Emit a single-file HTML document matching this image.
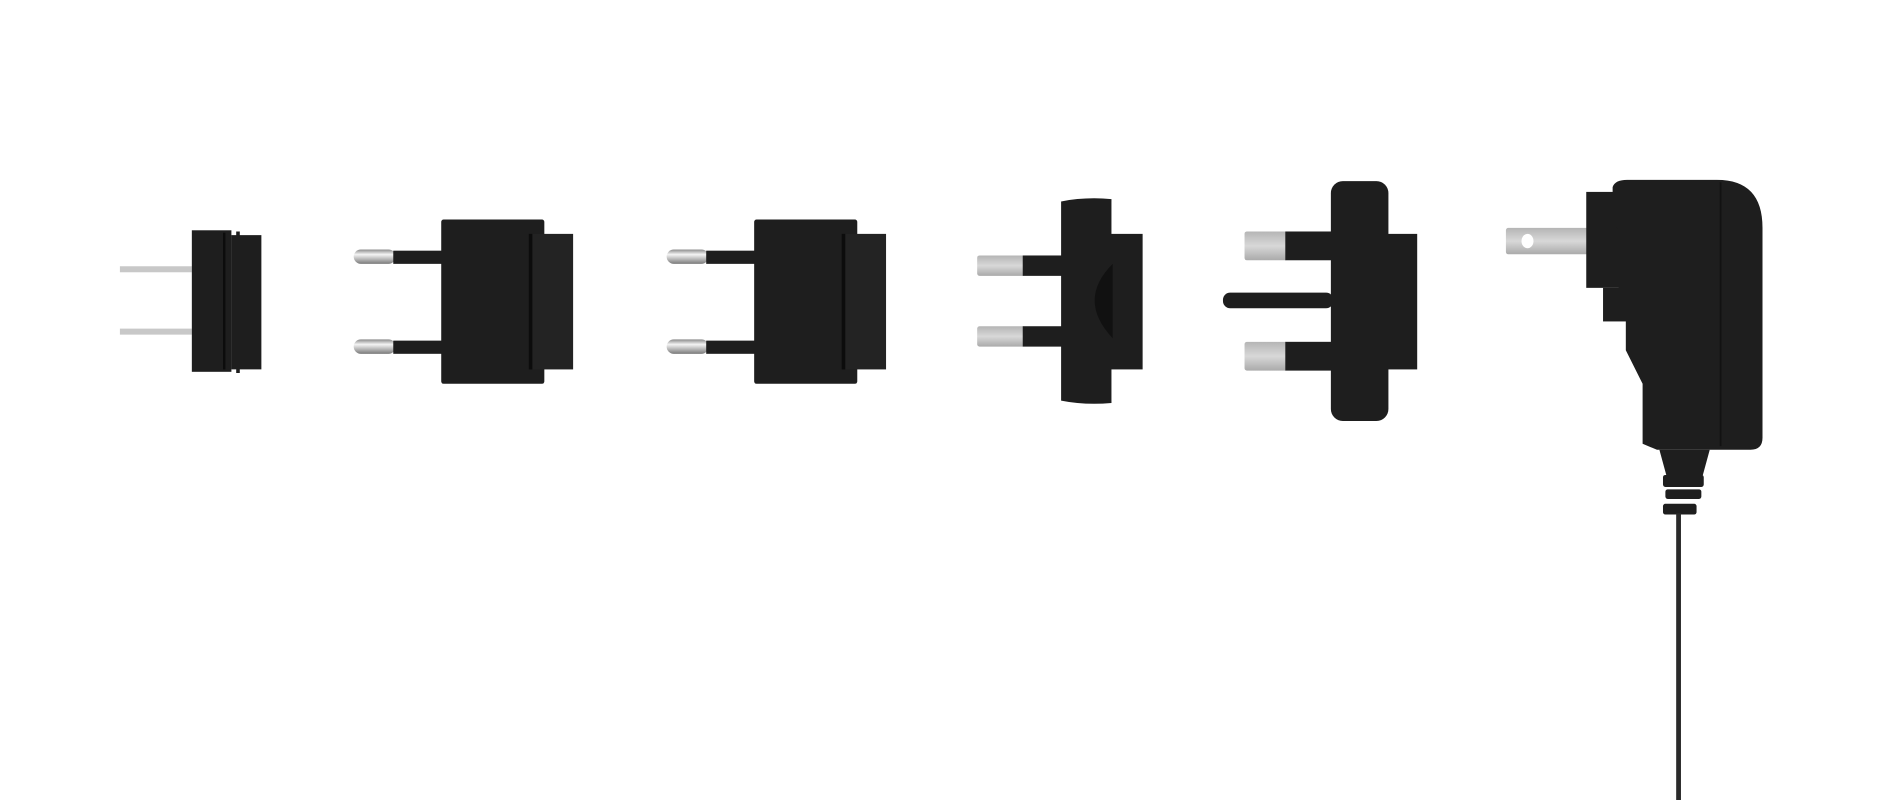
<!DOCTYPE html>
<html><head><style>html,body{margin:0;padding:0;background:#fff;width:1880px;height:800px;overflow:hidden}</style></head>
<body>
<svg width="1880" height="800" viewBox="0 0 1568 667" preserveAspectRatio="none" xmlns="http://www.w3.org/2000/svg">
<defs>
<linearGradient id="sv" x1="0" y1="0" x2="0" y2="1"><stop offset="0" stop-color="#8a8a8a"/><stop offset="0.35" stop-color="#f4f4f4"/><stop offset="1" stop-color="#7a7a7a"/></linearGradient>
<linearGradient id="fl" x1="0" y1="0" x2="0" y2="1"><stop offset="0" stop-color="#b5b5b5"/><stop offset="0.5" stop-color="#d8d8d8"/><stop offset="1" stop-color="#aaa"/></linearGradient>
</defs>
<g fill="#1e1e1e">
<!-- item 1 -->
<rect x="100" y="222" width="60" height="5" fill="#c8c8c8"/>
<rect x="100" y="274" width="60" height="5" fill="#c8c8c8"/>
<rect x="160" y="192" width="33" height="118"/>
<rect x="186" y="194" width="2" height="114" fill="#0c0c0c"/>
<path d="M193 196h4v-3h3v3h18v112h-18v3h-3v-3h-4z"/>
<!-- item 2 & 3 -->
<g id="eu">
<rect x="295" y="208" width="35" height="12" rx="6" fill="url(#sv)"/>
<rect x="328" y="209" width="42" height="11"/>
<rect x="295" y="283" width="35" height="12" rx="6" fill="url(#sv)"/>
<rect x="328" y="284" width="42" height="11"/>
<rect x="368" y="183" width="86" height="137" rx="2"/>
<rect x="441" y="195" width="37" height="113" fill="#232323"/>
<rect x="441" y="195" width="3" height="113" fill="#0c0c0c"/>
</g>
<use href="#eu" x="261"/>
<!-- item 4 -->
<rect x="815" y="213" width="40" height="17" rx="2" fill="url(#fl)"/>
<rect x="853" y="213" width="34" height="17"/>
<rect x="815" y="272" width="40" height="17" rx="2" fill="url(#fl)"/>
<rect x="853" y="272" width="34" height="17"/>
<path d="M885 168q20-4 42-2v170q-22 2-42-2z"/>
<rect x="925" y="195" width="28" height="113"/>
<path d="M928 220q-30 30 0 62z" fill="#111"/>
<!-- item 5 -->
<rect x="1038" y="193" width="36" height="24" rx="2" fill="url(#fl)"/>
<rect x="1072" y="193" width="40" height="24"/>
<rect x="1038" y="285" width="36" height="24" rx="2" fill="url(#fl)"/>
<rect x="1072" y="285" width="40" height="24"/>
<rect x="1020" y="244" width="92" height="13" rx="6"/>
<rect x="1110" y="151" width="48" height="200" rx="10"/>
<rect x="1155" y="195" width="27" height="113"/>
<!-- charger -->
<rect x="1256" y="190" width="70" height="22" rx="2" fill="url(#fl)"/>
<ellipse cx="1274" cy="201" rx="5" ry="6" fill="#fff"/>
<rect x="1323" y="160" width="38" height="80"/>
<path d="M1345 156q2-6 12-6h75q38 0 38 40v175q0 10-10 10h-78l-12-5v-50l-14-28v-30l-6-10v-60l-5-6z"/>
<rect x="1337" y="240" width="20" height="28"/>
<line x1="1435" y1="152" x2="1435" y2="372" stroke="#121212" stroke-width="1.5"/>
<path d="M1384 375h42l-6 22h-30z"/>
<rect x="1387" y="396" width="34" height="10" rx="2"/>
<rect x="1389" y="408" width="30" height="8" rx="2"/>
<rect x="1387" y="420" width="28" height="9" rx="2"/>
<rect x="1398" y="428" width="4" height="239" fill="#2a2a2a"/>
</g>
</svg>
</body></html>
